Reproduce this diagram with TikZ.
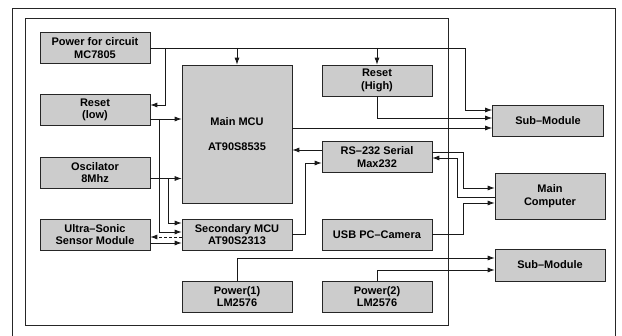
\documentclass[tikz,border=0pt]{standalone}
\usepackage{fontspec}
\setmainfont{Liberation Sans}
\usetikzlibrary{arrows.meta}
\begin{document}
\begin{tikzpicture}[x=1pt,y=-1pt,
  blk/.style={draw=black!85, line width=0.6pt, fill=gray!40, minimum width=110pt,
    minimum height=31pt, inner sep=1pt, align=center,
    font=\fontsize{11}{12.5}\selectfont\bfseries},
  ln/.style={line width=0.8pt, draw=black!90},
  arr/.style={ln, -{Latex[length=7pt,width=5pt]}},
  frame/.style={line width=0.8pt, draw=black!85}
]
\useasboundingbox (0,0) rectangle (622,336);
% frames
\draw[frame] (12,336) -- (12,8) -- (615,8) -- (615,336);
\draw[frame] (25,18) rectangle (448,325);
% left column
\node[blk] (pwr) at (95,48) {Power for circuit\\MC7805};
\node[blk] (rstl) at (95,110) {Reset\\(low)};
\node[blk] (osc) at (95,172.5) {Oscilator\\8Mhz};
\node[blk] (us) at (95,234.5) {Ultra--Sonic\\Sensor Module};
% middle column
\node[blk, minimum height=138pt] (mmcu) at (237,134) {Main MCU\\[12pt]AT90S8535};
\node[blk] (smcu) at (237,234.5) {Secondary MCU\\AT90S2313};
\node[blk] (p1) at (237,296.5) {Power(1)\\LM2576};
% third column
\node[blk] (rsth) at (377,80.5) {Reset\\(High)};
\node[blk] (rs) at (377,157) {RS--232 Serial\\Max232};
\node[blk] (usb) at (377,234.5) {USB PC--Camera};
\node[blk] (p2) at (377,296.5) {Power(2)\\LM2576};
% right column
\node[blk, minimum width=111pt] (sub1) at (548,120.5) {Sub--Module};
\node[blk, minimum height=46pt] (mc) at (550,196) {Main\\Computer};
\node[blk, minimum height=32pt] (sub2) at (550,265) {Sub--Module};
% power for circuit
\coordinate (j1) at (165,48);
\coordinate (j2) at (237,48);
\coordinate (j3) at (377,48);
\draw[arr] (pwr.east) -- (465,48) |- (sub1.west |- 0,110);
\draw[arr] (j1) |- (rstl.east |- 0,105);
\draw[arr] (j2) -- (mmcu.north);
\draw[arr] (j3) -- (rsth.north);
% to sub-module 1
\draw[arr] (rsth.south) |- (sub1.west |- 0,118);
\draw[arr] (mmcu.east |- 0,128) -- (sub1.west |- 0,128);
% RS-232
\draw[arr] (rs.west |- 0,150) -- (mmcu.east |- 0,150);
\draw[arr] (smcu.east) -- (305,234.5) |- (rs.west |- 0,163);
\draw[arr] (rs.east |- 0,152) -- (463,152) |- (mc.west |- 0,188);
\draw[arr] (mc.west |- 0,197) -- (457,197) |- (rs.east |- 0,158);
\draw[arr] (usb.east) -- (463,234.5) |- (mc.west |- 0,203);
% powers to sub-module 2
\draw[arr] (p1.north) |- (sub2.west |- 0,258);
\draw[arr] (p2.north) |- (sub2.west |- 0,270);
% left side
\coordinate (j4) at (159,119);
\coordinate (j5) at (168,178.5);
\draw[arr] (rstl.east |- 0,119) -- (mmcu.west |- 0,119);
\draw[arr] (osc.east |- 0,178.5) -- (mmcu.west |- 0,178.5);
\draw[arr] (j4) |- (smcu.west |- 0,232);
\draw[arr] (j5) |- (smcu.west |- 0,223);
\draw[arr, densely dashed] (smcu.west |- 0,237) -- (us.east |- 0,237);
\draw[arr] (us.east |- 0,243) -- (smcu.west |- 0,243);
\end{tikzpicture}
\end{document}
